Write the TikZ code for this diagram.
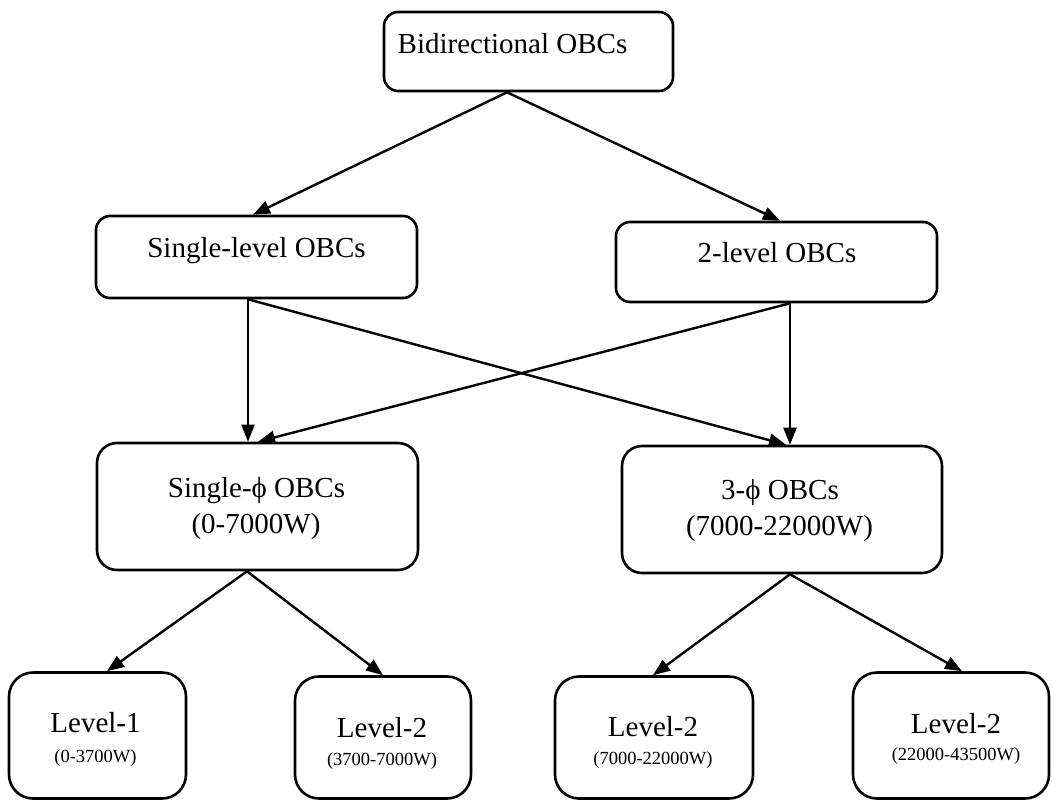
\documentclass[tikz,border=0pt]{standalone}
\usepackage{fontspec}
\setmainfont{Liberation Serif}
\usetikzlibrary{arrows.meta,calc}
\begin{document}
\begin{tikzpicture}[x=1pt,y=-1pt,
  box/.style={draw, line width=2.6pt, inner sep=0pt},
  big/.style={anchor=base, inner sep=0pt, font=\fontsize{29}{34}\selectfont},
  small/.style={anchor=base, inner sep=0pt, font=\fontsize{18.5}{22}\selectfont},
  arr/.style={line width=2.4pt, -{Triangle[length=17pt,width=13pt]}}]
\useasboundingbox (0,0) rectangle (1052,801);
% boxes
\node[box, rounded corners=14pt, minimum width=289pt, minimum height=79pt] (top) at (528.5,51.5) {};
\node[box, rounded corners=14pt, minimum width=321pt, minimum height=82pt] (sl) at (256.5,257) {};
\node[box, rounded corners=14pt, minimum width=321pt, minimum height=80pt] (tl) at (776.5,262) {};
\node[box, rounded corners=20pt, minimum width=321pt, minimum height=127pt] (sp) at (257.5,506.5) {};
\node[box, rounded corners=20pt, minimum width=320pt, minimum height=127pt] (tp) at (782,509.5) {};
\node[box, rounded corners=24pt, minimum width=177pt, minimum height=126pt] (la) at (97.5,735.5) {};
\node[box, rounded corners=24pt, minimum width=176pt, minimum height=122pt] (lb) at (383,737.5) {};
\node[box, rounded corners=24pt, minimum width=198pt, minimum height=122pt] (lc) at (654,737.5) {};
\node[box, rounded corners=24pt, minimum width=196pt, minimum height=126pt] (ld) at (951,735.5) {};
% texts
\node[big] (topt) at (512.5,53) {Bidirectional OBCs};
\node[big] (slt) at (256.5,257) {Single-level OBCs};
\node[big] (tlt) at (777,262) {2-level OBCs};
\node[big] (spt) at (256.5,497) {Single-ϕ OBCs};
\node[big] (sps) at (256,533) {(0-7000W)};
\node[big] (tpt) at (780,499) {3-ϕ OBCs};
\node[big] (tps) at (779.5,535) {(7000-22000W)};
\node[big] (lat) at (95.5,732) {Level-1};
\node[small] (las) at (95.5,762) {(0-3700W)};
\node[big] (lbt) at (382,737) {Level-2};
\node[small] (lbs) at (382,765) {(3700-7000W)};
\node[big] (lct) at (653,736) {Level-2};
\node[small] (lcs) at (653,764) {(7000-22000W)};
\node[big] (ldt) at (956,733) {Level-2};
\node[small] (lds) at (956,760) {(22000-43500W)};
% connectors
\draw[arr] ($(top.south)+(-21.5,0)$) -- ($(sl.north)+(-3.5,0)$);
\draw[arr] ($(top.south)+(-21.5,0)$) -- ($(tl.north)+(3.5,0)$);
\draw[arr] ($(sl.south)+(-8.5,0)$) -- ($(sp.north)+(-9.5,0)$);
\draw[arr] ($(sl.south)+(-8.5,0)$) -- ($(tp.north)+(4,0)$);
\draw[arr] ($(tl.south)+(13.5,0)$) -- ($(tp.north)+(8,0)$);
\draw[arr] ($(tl.south)+(13.5,0)$) -- ($(sp.north)+(0.5,0)$);
\draw[arr] ($(sp.south)+(-10.5,0)$) -- ($(la.north)+(9.5,0)$);
\draw[arr] ($(sp.south)+(-10.5,0)$) -- (lb.north);
\draw[arr] ($(tp.south)+(8,0)$) -- ($(lc.north)+(-1,0)$);
\draw[arr] ($(tp.south)+(8,0)$) -- ($(ld.north)+(11,0)$);
\end{tikzpicture}
\end{document}
